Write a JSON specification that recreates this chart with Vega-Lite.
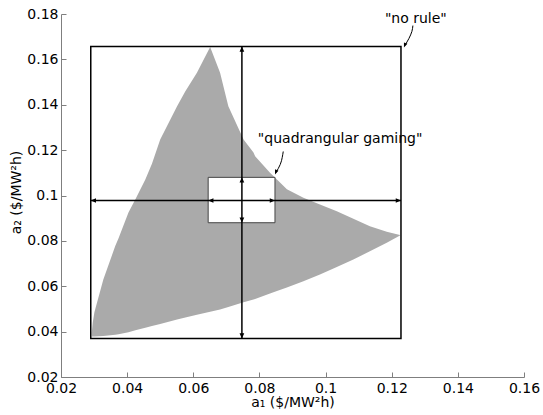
{
  "$schema": "https://vega.github.io/schema/vega-lite/v6.json",
  "width": 463,
  "height": 363,
  "autosize": {"type": "none"},
  "padding": {"left": 61, "top": 14, "right": 19, "bottom": 38},
  "background": "white",
  "config": {
    "view": {"stroke": null},
    "font": "DejaVu Sans",
    "axis": {
      "grid": false,
      "domainColor": "#7f7f7f",
      "tickColor": "#7f7f7f",
      "labelColor": "black",
      "titleColor": "black",
      "labelFont": "DejaVu Sans",
      "titleFont": "DejaVu Sans",
      "labelFontSize": 14,
      "titleFontSize": 14,
      "titleFontWeight": "normal",
      "tickSize": -5,
      "format": "~g",
      "labelFlush": false,
      "labelOverlap": false
    },
    "axisX": {"tickCount": 7, "titleY": 29, "titleBaseline": "alphabetic", "labelPadding": 9},
    "axisY": {"tickCount": 8, "titleX": -41, "titleY": 178, "titleBaseline": "alphabetic", "titleAngle": -90, "labelPadding": 8}
  },
  "datasets": {
    "region": [
      {"x": 0.0293, "y": 0.0395, "y2": 0.0378},
      {"x": 0.0296, "y": 0.0440, "y2": 0.0378},
      {"x": 0.0301, "y": 0.0485, "y2": 0.0378},
      {"x": 0.0328, "y": 0.0630, "y2": 0.0381},
      {"x": 0.0364, "y": 0.0777, "y2": 0.0386},
      {"x": 0.0374, "y": 0.0812, "y2": 0.0388},
      {"x": 0.0404, "y": 0.0925, "y2": 0.0397},
      {"x": 0.0425, "y": 0.0983, "y2": 0.0406},
      {"x": 0.0455, "y": 0.1071, "y2": 0.0417},
      {"x": 0.0475, "y": 0.1140, "y2": 0.0425},
      {"x": 0.0500, "y": 0.1247, "y2": 0.0434},
      {"x": 0.0551, "y": 0.1393, "y2": 0.0453},
      {"x": 0.0576, "y": 0.1460, "y2": 0.0462},
      {"x": 0.0611, "y": 0.1541, "y2": 0.0474},
      {"x": 0.0651, "y": 0.1655, "y2": 0.0488},
      {"x": 0.0681, "y": 0.1541, "y2": 0.0498},
      {"x": 0.0706, "y": 0.1393, "y2": 0.0509},
      {"x": 0.0752, "y": 0.1247, "y2": 0.0529},
      {"x": 0.0782, "y": 0.1190, "y2": 0.0542},
      {"x": 0.0787, "y": 0.1173, "y2": 0.0544},
      {"x": 0.0832, "y": 0.1100, "y2": 0.0568},
      {"x": 0.0853, "y": 0.1071, "y2": 0.0579},
      {"x": 0.0883, "y": 0.1027, "y2": 0.0594},
      {"x": 0.0933, "y": 0.0990, "y2": 0.0622},
      {"x": 0.0983, "y": 0.0960, "y2": 0.0652},
      {"x": 0.1034, "y": 0.0931, "y2": 0.0685},
      {"x": 0.1084, "y": 0.0898, "y2": 0.0718},
      {"x": 0.1134, "y": 0.0865, "y2": 0.0754},
      {"x": 0.1185, "y": 0.0840, "y2": 0.0792},
      {"x": 0.1225, "y": 0.0826, "y2": 0.0824}
    ],
    "bigbox": [{"x": 0.029, "x2": 0.1228, "y": 0.037, "y2": 0.1657}],
    "smallbox": [{"x": 0.0645, "x2": 0.0847, "y": 0.088, "y2": 0.108}],
    "lines": [
      {"x": 0.029, "x2": 0.1228, "y": 0.0978, "y2": 0.0978},
      {"x": 0.0747, "x2": 0.0747, "y": 0.037, "y2": 0.1657}
    ],
    "heads": [
      {"x": 0.029, "y": 0.0978, "dir": "left"},
      {"x": 0.1228, "y": 0.0978, "dir": "right"},
      {"x": 0.0747, "y": 0.1657, "dir": "up"},
      {"x": 0.0747, "y": 0.037, "dir": "down"},
      {"x": 0.0645, "y": 0.0978, "dir": "left"},
      {"x": 0.0847, "y": 0.0978, "dir": "right"},
      {"x": 0.0747, "y": 0.108, "dir": "up"},
      {"x": 0.0747, "y": 0.088, "dir": "down"},
      {"x": 0.1237, "y": 0.1652, "dir": "dl"},
      {"x": 0.0847, "y": 0.1093, "dir": "dl"}
    ],
    "leaders": [
      {"id": "a", "k": 1, "x": 0.1264, "y": 0.1749},
      {"id": "a", "k": 2, "x": 0.1261, "y": 0.1723},
      {"id": "a", "k": 3, "x": 0.1252, "y": 0.1692},
      {"id": "a", "k": 4, "x": 0.1240, "y": 0.1661},
      {"id": "b", "k": 1, "x": 0.0872, "y": 0.1194},
      {"id": "b", "k": 2, "x": 0.0869, "y": 0.1168},
      {"id": "b", "k": 3, "x": 0.0863, "y": 0.1137},
      {"id": "b", "k": 4, "x": 0.0850, "y": 0.1101}
    ],
    "notes": [
      {"x": 0.1273, "y": 0.1780, "label": "\"no rule\""},
      {"x": 0.1044, "y": 0.1247, "label": "\"quadrangular gaming\""}
    ]
  },
  "layer": [
    {
      "data": {"name": "region"},
      "mark": {"type": "area", "color": "#aaaaaa", "opacity": 1, "interpolate": "linear", "orient": "vertical"},
      "encoding": {
        "x": {"field": "x", "type": "quantitative", "scale": {"domain": [0.02, 0.16], "nice": false, "zero": false}, "title": "a₁ ($/MW²h)"},
        "y": {"field": "y", "type": "quantitative", "scale": {"domain": [0.02, 0.18], "nice": false, "zero": false}, "title": "a₂ ($/MW²h)"},
        "y2": {"field": "y2"}
      }
    },
    {
      "data": {"name": "bigbox"},
      "mark": {"type": "rect", "fill": null, "fillOpacity": 0, "stroke": "black", "strokeWidth": 1.5},
      "encoding": {
        "x": {"field": "x", "type": "quantitative", "scale": {"domain": [0.02, 0.16], "nice": false, "zero": false}, "title": "a₁ ($/MW²h)"},
        "x2": {"field": "x2"},
        "y": {"field": "y", "type": "quantitative", "scale": {"domain": [0.02, 0.18], "nice": false, "zero": false}, "title": "a₂ ($/MW²h)"},
        "y2": {"field": "y2"}
      }
    },
    {
      "data": {"name": "smallbox"},
      "mark": {"type": "rect", "fill": "white", "fillOpacity": 1, "stroke": "#444444", "strokeWidth": 1},
      "encoding": {
        "x": {"field": "x", "type": "quantitative", "scale": {"domain": [0.02, 0.16], "nice": false, "zero": false}, "title": "a₁ ($/MW²h)"},
        "x2": {"field": "x2"},
        "y": {"field": "y", "type": "quantitative", "scale": {"domain": [0.02, 0.18], "nice": false, "zero": false}, "title": "a₂ ($/MW²h)"},
        "y2": {"field": "y2"}
      }
    },
    {
      "data": {"name": "lines"},
      "mark": {"type": "rule", "color": "black", "strokeWidth": 1.5},
      "encoding": {
        "x": {"field": "x", "type": "quantitative", "scale": {"domain": [0.02, 0.16], "nice": false, "zero": false}, "title": "a₁ ($/MW²h)"},
        "x2": {"field": "x2"},
        "y": {"field": "y", "type": "quantitative", "scale": {"domain": [0.02, 0.18], "nice": false, "zero": false}, "title": "a₂ ($/MW²h)"},
        "y2": {"field": "y2"}
      }
    },
    {
      "data": {"name": "leaders"},
      "mark": {"type": "line", "color": "black", "strokeWidth": 1, "interpolate": "natural"},
      "encoding": {
        "x": {"field": "x", "type": "quantitative", "scale": {"domain": [0.02, 0.16], "nice": false, "zero": false}, "title": "a₁ ($/MW²h)"},
        "y": {"field": "y", "type": "quantitative", "scale": {"domain": [0.02, 0.18], "nice": false, "zero": false}, "title": "a₂ ($/MW²h)"},
        "detail": {"field": "id", "type": "nominal"},
        "order": {"field": "k", "type": "quantitative"}
      }
    },
    {
      "data": {"name": "heads"},
      "mark": {"type": "point", "filled": true, "color": "black", "opacity": 1, "size": 110, "strokeWidth": 0},
      "encoding": {
        "x": {"field": "x", "type": "quantitative", "scale": {"domain": [0.02, 0.16], "nice": false, "zero": false}, "title": "a₁ ($/MW²h)"},
        "y": {"field": "y", "type": "quantitative", "scale": {"domain": [0.02, 0.18], "nice": false, "zero": false}, "title": "a₂ ($/MW²h)"},
        "shape": {
          "field": "dir",
          "type": "nominal",
          "legend": null,
          "scale": {
            "domain": ["left", "right", "up", "down", "dl"],
            "range": [
              "M0,0 L1,-0.45 L1,0.45 Z",
              "M0,0 L-1,-0.45 L-1,0.45 Z",
              "M0,0 L-0.45,1 L0.45,1 Z",
              "M0,0 L-0.45,-1 L0.45,-1 Z",
              "M0,0 L0,-0.97 L0.66,-0.71 Z"
            ]
          }
        }
      }
    },
    {
      "data": {"name": "notes"},
      "mark": {"type": "text", "font": "DejaVu Sans", "fontSize": 14, "color": "black", "align": "center", "baseline": "middle"},
      "encoding": {
        "x": {"field": "x", "type": "quantitative", "scale": {"domain": [0.02, 0.16], "nice": false, "zero": false}, "title": "a₁ ($/MW²h)"},
        "y": {"field": "y", "type": "quantitative", "scale": {"domain": [0.02, 0.18], "nice": false, "zero": false}, "title": "a₂ ($/MW²h)"},
        "text": {"field": "label", "type": "nominal"}
      }
    }
  ]
}
